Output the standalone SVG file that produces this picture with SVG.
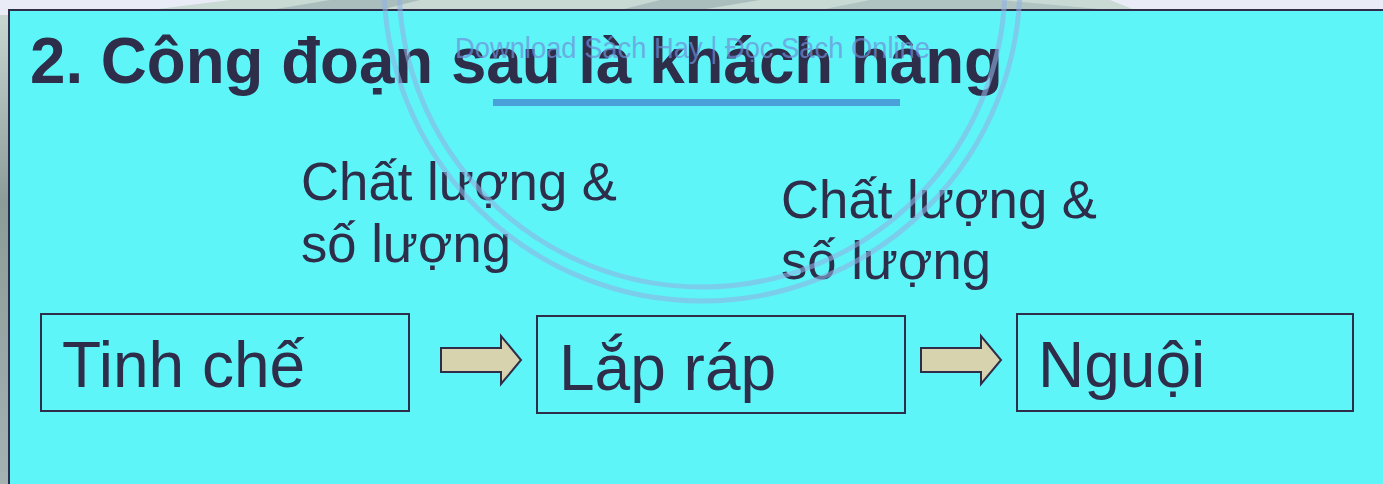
<svg xmlns="http://www.w3.org/2000/svg" width="1383" height="484" viewBox="0 0 1383 484">
<style>
.box{fill:none;stroke:#2e2d4a;stroke-width:2}
.arr{fill:#d6d3ae;stroke:#2e2d4a;stroke-width:2;stroke-linejoin:miter}
.t{font-family:"Liberation Sans",Arial,sans-serif;fill:#2e2d4a}
.lbl{font-size:53px}
.node{font-size:64px}
.wm{fill:none;stroke:#8fb2e4;stroke-width:5;opacity:0.6}
</style>
<defs>
<linearGradient id="lg" x1="0" y1="0" x2="0" y2="1">
<stop offset="0" stop-color="#c8d6d2"/>
<stop offset="0.4" stop-color="#8c9c98"/>
<stop offset="1" stop-color="#a4b2b2"/>
</linearGradient>
</defs>
<g id="background">
<rect x="0" y="0" width="1383" height="484" fill="#e9ecf6"/>
<rect x="0" y="15" width="8" height="469" fill="url(#lg)"/>
<polygon points="150,10 230,0 1110,0 1135,10" fill="#c9d9d3"/>
<polygon points="270,10 330,0 420,0 380,10" fill="#aabfbd"/>
<polygon points="620,10 660,0 760,0 700,10" fill="#aabfbd"/>
<polygon points="820,10 870,0 1000,0 1110,10" fill="#b0c4c2"/>
<rect x="9" y="10" width="1374" height="474" fill="#5ef5f8"/>
<path d="M9,484 V10 H1383" fill="none" stroke="#2e2d4a" stroke-width="2"/>
</g>
<g id="title">
<text x="30" y="83" class="t" font-size="64" font-weight="bold" textLength="973" lengthAdjust="spacingAndGlyphs">2. Công đoạn sau là khách hàng</text>
<rect x="493" y="99" width="407" height="7" fill="#4aa0d8"/>
</g>
<g id="label1">
<text x="301" y="200" class="t lbl" textLength="316" lengthAdjust="spacingAndGlyphs">Chất lượng &amp;</text>
<text x="301" y="262" class="t lbl" textLength="210" lengthAdjust="spacingAndGlyphs">số lượng</text>
</g>
<g id="label2">
<text x="781" y="218" class="t lbl" textLength="316" lengthAdjust="spacingAndGlyphs">Chất lượng &amp;</text>
<text x="781" y="279" class="t lbl" textLength="210" lengthAdjust="spacingAndGlyphs">số lượng</text>
</g>
<g id="node-tinh-che">
<rect x="41" y="314" width="368" height="97" class="box"/>
<text x="62" y="387" class="t node">Tinh chế</text>
</g>
<g id="node-lap-rap">
<rect x="537" y="316" width="368" height="97" class="box"/>
<text x="559" y="390" class="t node">Lắp ráp</text>
</g>
<g id="node-nguoi">
<rect x="1017" y="314" width="336" height="97" class="box"/>
<text x="1038" y="387" class="t node">Nguội</text>
</g>
<g id="connectors">
<polygon class="arr" points="441,348 501,348 501,336 521,360 501,384 501,372 441,372"/>
<polygon class="arr" points="921,348 981,348 981,336 1001,360 981,384 981,372 921,372"/>
</g>
<g id="watermark">
<circle cx="702" cy="-17" r="318" class="wm"/>
<circle cx="702" cy="-16" r="303" class="wm"/>
<text x="455" y="58" font-family="'Liberation Sans Narrow','Liberation Sans',sans-serif" font-size="30" fill="#6f8fd8" opacity="0.7" textLength="475" lengthAdjust="spacingAndGlyphs">Download Sách Hay | Đọc Sách Online</text>
</g>
</svg>
